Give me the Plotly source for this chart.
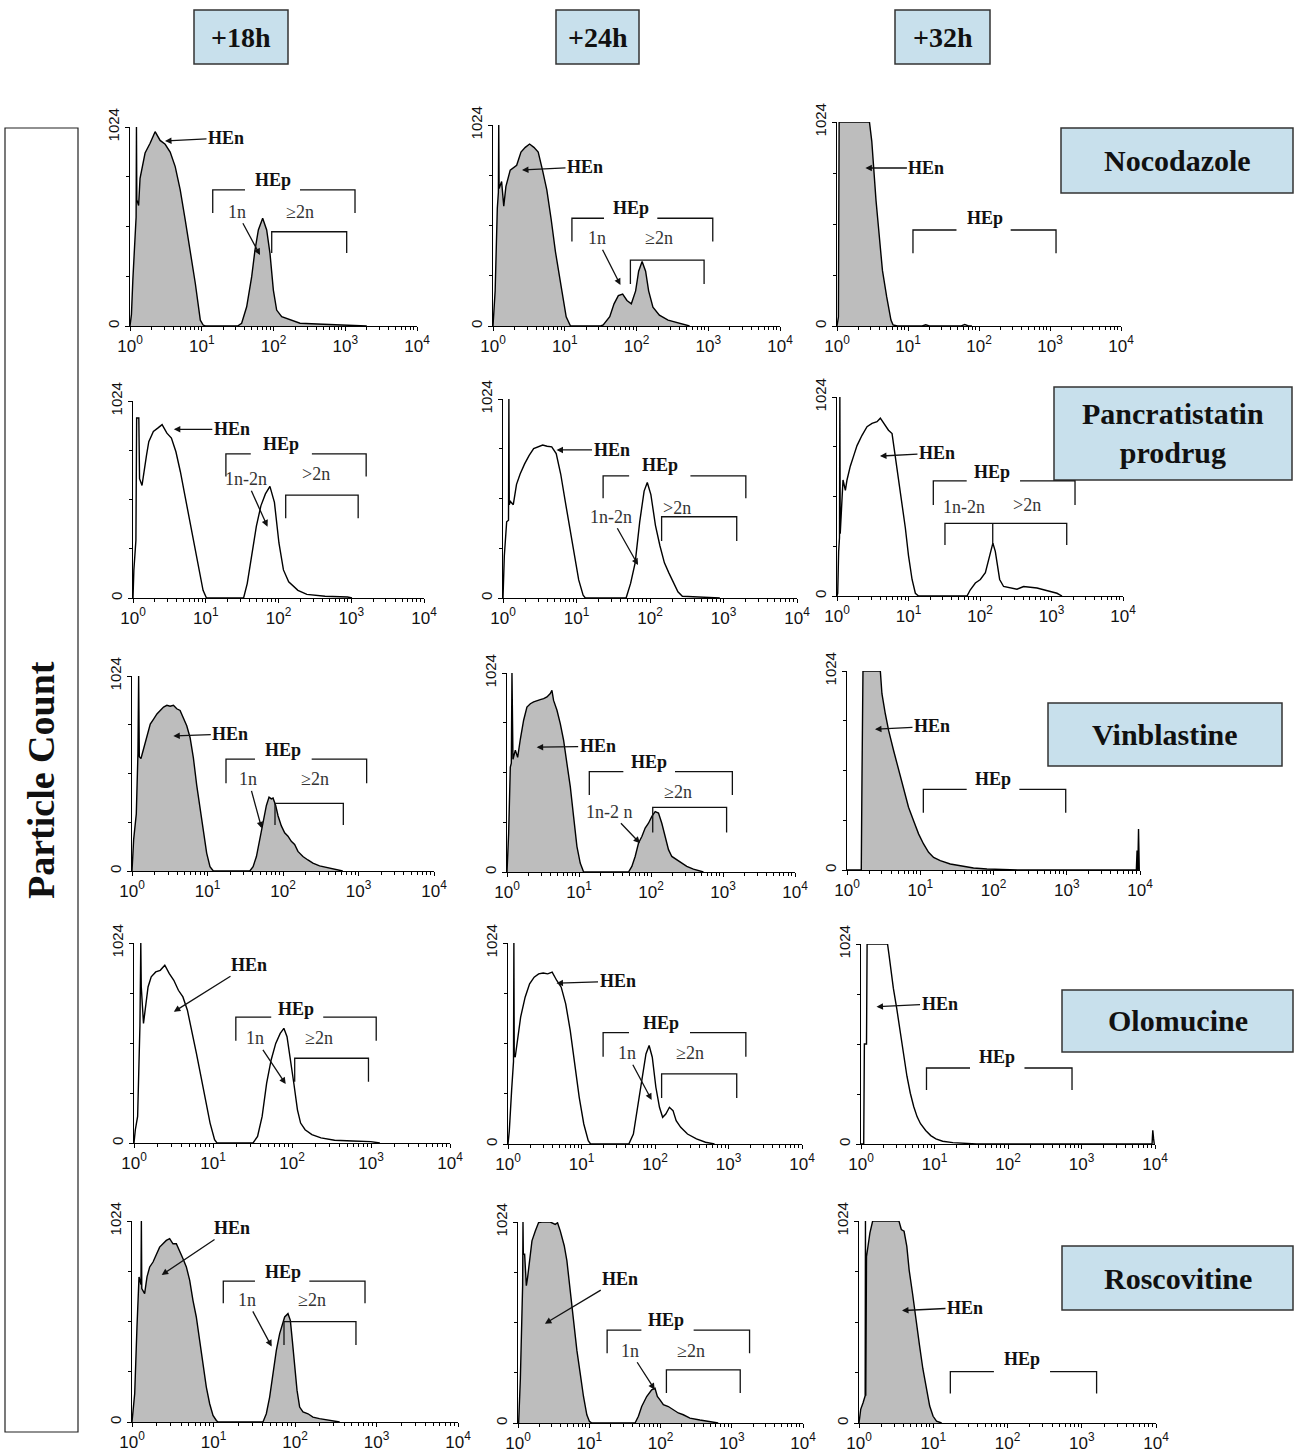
import numpy as np
import plotly.graph_objects as go

W, H = 1294, 1454

# ---------------- data: log10(fluorescence) channel and particle count ----------------
NOC_18H_LOGX = [0.00, 0.02, 0.04, 0.07, 0.085, 0.09, 0.095, 0.12, 0.14, 0.21, 0.28, 0.35, 0.42, 0.49, 0.56, 0.63, 0.70,
                0.77, 0.84, 0.91, 0.98, 1.02, 1.05, 1.50, 1.556, 1.626, 1.696, 1.742, 1.789, 1.849, 1.905, 1.951, 1.998,
                2.044, 2.114, 2.23, 2.37, 2.69, 3.16, 3.3]
NOC_18H_COUNT = [0, 60, 240, 500, 560, 1024, 650, 620, 760, 890, 940, 1000, 955, 935, 895, 820, 700, 545, 390, 220, 30,
                 5, 0, 0, 14, 99, 254, 391, 494, 554, 494, 374, 185, 82, 48, 31, 14, 9, 5, 0]

NOC_24H_LOGX = [0.00, 0.03, 0.06, 0.075, 0.08, 0.085, 0.12, 0.15, 0.18, 0.24, 0.33, 0.39, 0.45, 0.51, 0.57, 0.63, 0.69,
                0.75, 0.81, 0.87, 0.96, 1.02, 1.08, 1.50, 1.536, 1.627, 1.687, 1.747, 1.807, 1.867, 1.928, 1.988, 2.03,
                2.078, 2.127, 2.169, 2.229, 2.319, 2.44, 2.62, 2.74]
NOC_24H_COUNT = [0, 179, 600, 680, 1024, 700, 736, 611, 711, 794, 819, 886, 910, 927, 910, 886, 794, 694, 545, 379, 179,
                 47, 0, 0, 5, 47, 113, 155, 163, 130, 113, 179, 279, 329, 279, 179, 96, 55, 30, 13, 0]

NOC_32H_LOGX = [0.00, 0.02, 0.03, 0.457, 0.49, 0.52, 0.55, 0.58, 0.61, 0.64, 0.70, 0.76, 0.79, 0.85, 1.20, 1.25, 1.30,
                1.75, 1.80, 1.85, 1.90]
NOC_32H_COUNT = [0, 46, 1024, 1024, 927, 761, 628, 512, 379, 279, 146, 30, 5, 0, 0, 6, 0, 0, 8, 0, 0]

PAN_18H_LOGX = [0.00, 0.012, 0.04, 0.05, 0.08, 0.09, 0.124, 0.155, 0.186, 0.217, 0.28, 0.34, 0.40, 0.466, 0.528, 0.59,
                0.652, 0.714, 0.776, 0.838, 0.90, 0.963, 1.01, 1.52, 1.57, 1.634, 1.696, 1.758, 1.82, 1.882, 1.944,
                2.006, 2.068, 2.14, 2.267, 2.39, 2.64, 2.95, 3.01]
PAN_18H_COUNT = [0, 146, 300, 936, 936, 620, 585, 673, 743, 813, 866, 883, 901, 857, 831, 760, 655, 532, 409, 286, 146,
                 40, 0, 0, 75, 216, 374, 479, 541, 580, 497, 286, 146, 84, 40, 19, 9, 5, 0]

PAN_24H_LOGX = [0.00, 0.018, 0.05, 0.075, 0.08, 0.085, 0.10, 0.14, 0.184, 0.233, 0.294, 0.356, 0.417, 0.478, 0.54, 0.60,
                0.663, 0.724, 0.785, 0.847, 0.908, 0.97, 1.03, 1.09, 1.12, 1.675, 1.736, 1.798, 1.86, 1.92, 1.963,
                2.012, 2.074, 2.135, 2.196, 2.258, 2.32, 2.38, 2.44, 2.87, 2.95]
PAN_24H_COUNT = [0, 216, 392, 400, 1024, 480, 497, 480, 585, 638, 690, 734, 769, 778, 787, 781, 778, 743, 638, 497, 357,
                 216, 93, 14, 0, 0, 75, 181, 392, 550, 594, 532, 374, 269, 181, 128, 75, 32, 9, 3, 0]

PAN_32H_LOGX = [0.00, 0.01, 0.023, 0.035, 0.04, 0.045, 0.084, 0.117, 0.14, 0.186, 0.233, 0.28, 0.35, 0.42, 0.49, 0.56,
                0.606, 0.653, 0.72, 0.77, 0.816, 0.862, 0.909, 0.956, 1.0, 1.05, 1.096, 1.14, 1.818, 1.865, 1.935,
                2.005, 2.075, 2.12, 2.154, 2.18, 2.214, 2.238, 2.275, 2.33, 2.424, 2.517, 2.61, 2.704, 2.797, 2.89,
                2.984, 3.077, 3.147]
PAN_32H_COUNT = [0, 14, 226, 300, 1024, 320, 597, 544, 597, 668, 721, 774, 827, 871, 888, 897, 915, 888, 853, 836, 721,
                 597, 473, 350, 208, 85, 14, 0, 0, 32, 67, 85, 120, 190, 240, 272, 230, 165, 85, 49, 41, 35, 49, 46,
                 41, 32, 23, 14, 0]

VIN_18H_LOGX = [0.00, 0.022, 0.057, 0.079, 0.088, 0.097, 0.119, 0.154, 0.198, 0.242, 0.286, 0.33, 0.374, 0.418, 0.462,
                0.505, 0.549, 0.593, 0.637, 0.681, 0.725, 0.769, 0.813, 0.857, 0.901, 0.945, 0.989, 1.033, 1.077,
                1.56, 1.604, 1.648, 1.692, 1.736, 1.78, 1.815, 1.846, 1.868, 1.903, 1.934, 1.978, 2.022, 2.066, 2.11,
                2.154, 2.198, 2.264, 2.33, 2.396, 2.484, 2.615, 2.747, 2.791]
VIN_18H_COUNT = [0, 166, 300, 620, 1024, 600, 591, 647, 718, 772, 798, 825, 843, 861, 870, 865, 870, 852, 843, 807, 763,
                 701, 594, 451, 326, 201, 94, 23, 0, 0, 23, 76, 166, 255, 344, 388, 379, 383, 344, 290, 237, 201, 183,
                 156, 139, 103, 76, 58, 41, 27, 14, 5, 0]

VIN_24H_LOGX = [0.00, 0.023, 0.046, 0.06, 0.069, 0.083, 0.116, 0.148, 0.185, 0.231, 0.277, 0.324, 0.37, 0.416, 0.462,
                0.509, 0.555, 0.601, 0.624, 0.647, 0.694, 0.74, 0.786, 0.832, 0.879, 0.925, 0.971, 1.017, 1.064,
                1.688, 1.734, 1.78, 1.827, 1.873, 1.919, 1.965, 2.012, 2.058, 2.104, 2.15, 2.196, 2.243, 2.289, 2.358,
                2.428, 2.497, 2.589, 2.682, 2.728]
VIN_24H_COUNT = [0, 200, 540, 560, 1024, 580, 627, 590, 683, 781, 849, 866, 875, 883, 887, 892, 901, 918, 935, 883, 832,
                 764, 678, 559, 439, 285, 132, 46, 0, 0, 29, 80, 149, 183, 226, 251, 286, 311, 303, 251, 183, 115, 80,
                 63, 46, 29, 15, 7, 0]

VIN_32H_LOGX = [0.00, 0.195, 0.205, 0.218, 0.455, 0.477, 0.523, 0.568, 0.636, 0.705, 0.773, 0.84, 0.909, 0.977, 1.045,
                1.114, 1.182, 1.273, 1.41, 1.59, 1.727, 1.91, 2.09, 2.36, 3.95, 3.96, 3.97, 3.98, 3.99]
VIN_32H_COUNT = [0, 0, 495, 1024, 1024, 907, 804, 718, 615, 512, 409, 323, 254, 186, 134, 91, 65, 48, 31, 17, 10, 5, 2,
                 0, 0, 100, 0, 211, 0]

OLO_18H_LOGX = [0.00, 0.017, 0.046, 0.075, 0.086, 0.092, 0.12, 0.143, 0.178, 0.218, 0.275, 0.332, 0.39, 0.447, 0.504,
                0.562, 0.619, 0.676, 0.733, 0.79, 0.848, 0.905, 0.963, 1.02, 1.05, 1.507, 1.564, 1.622, 1.679, 1.736,
                1.794, 1.851, 1.897, 1.937, 1.977, 2.023, 2.069, 2.109, 2.166, 2.252, 2.367, 2.539, 2.768, 2.997, 3.112]
OLO_18H_COUNT = [0, 68, 136, 600, 1024, 800, 612, 680, 799, 851, 876, 884, 910, 867, 833, 782, 748, 680, 578, 459, 340,
                 221, 102, 17, 0, 0, 34, 136, 306, 425, 510, 561, 587, 544, 442, 306, 170, 102, 68, 43, 26, 14, 10, 7, 0]

OLO_24H_LOGX = [0.00, 0.018, 0.049, 0.075, 0.08, 0.085, 0.098, 0.141, 0.172, 0.233, 0.294, 0.356, 0.417, 0.479, 0.54,
                0.601, 0.663, 0.724, 0.785, 0.847, 0.908, 0.969, 1.031, 1.092, 1.123, 1.644, 1.706, 1.767, 1.828, 1.877,
                1.92, 1.963, 2.012, 2.061, 2.104, 2.147, 2.196, 2.245, 2.288, 2.35, 2.442, 2.564, 2.687, 2.81]
OLO_24H_COUNT = [0, 68, 272, 420, 1024, 450, 442, 578, 646, 748, 816, 850, 867, 871, 867, 876, 833, 799, 714, 578, 408,
                 238, 102, 17, 0, 0, 51, 204, 357, 459, 502, 442, 289, 187, 136, 153, 187, 170, 119, 85, 51, 26, 9, 0]

OLO_32H_LOGX = [0.00, 0.037, 0.046, 0.075, 0.083, 0.361, 0.38, 0.407, 0.44, 0.486, 0.532, 0.579, 0.625, 0.671, 0.718,
                0.764, 0.81, 0.88, 0.949, 1.019, 1.111, 1.25, 1.39, 1.574, 3.96, 3.97, 3.98, 3.99]
OLO_32H_COUNT = [0, 0, 512, 512, 1024, 1024, 972, 885, 798, 694, 573, 451, 347, 260, 191, 139, 104, 69, 43, 26, 14, 7,
                 3, 0, 0, 70, 30, 0]

ROS_18H_LOGX = [0.00, 0.012, 0.033, 0.061, 0.086, 0.11, 0.115, 0.12, 0.155, 0.184, 0.217, 0.258, 0.299, 0.339, 0.38,
                0.421, 0.462, 0.503, 0.544, 0.585, 0.626, 0.667, 0.708, 0.748, 0.789, 0.83, 0.871, 0.912, 0.953, 0.994,
                1.035, 1.055, 1.607, 1.648, 1.689, 1.73, 1.771, 1.812, 1.845, 1.873, 1.914, 1.943, 1.967, 1.996, 2.025,
                2.057, 2.098, 2.16, 2.22, 2.30, 2.425, 2.548]
ROS_18H_COUNT = [0, 42, 144, 484, 739, 700, 1024, 680, 654, 739, 790, 815, 857, 891, 908, 925, 934, 908, 908, 874, 832,
                 790, 722, 620, 535, 416, 297, 178, 93, 34, 8, 0, 0, 42, 127, 246, 365, 450, 501, 535, 552, 518, 416,
                 280, 161, 76, 51, 42, 25, 17, 8, 0]

ROS_24H_LOGX = [0.00, 0.009, 0.033, 0.056, 0.065, 0.07, 0.075, 0.093, 0.117, 0.135, 0.163, 0.196, 0.243, 0.289, 0.336,
                0.453, 0.523, 0.555, 0.593, 0.616, 0.649, 0.686, 0.733, 0.779, 0.826, 0.873, 0.919, 0.966, 1.003, 1.036,
                1.643, 1.69, 1.736, 1.806, 1.876, 1.923, 1.956, 1.993, 2.04, 2.11, 2.18, 2.25, 2.32, 2.413, 2.553,
                2.693, 2.81]
ROS_24H_COUNT = [0, 0, 224, 700, 700, 1024, 860, 860, 700, 742, 843, 928, 978, 1021, 1024, 1024, 1012, 1020, 979, 945,
                 903, 827, 675, 506, 371, 253, 135, 42, 8, 0, 0, 34, 84, 135, 169, 177, 135, 118, 93, 84, 67, 51, 42,
                 25, 15, 8, 0]

ROS_32H_LOGX = [0.00, 0.023, 0.055, 0.078, 0.083, 0.087, 0.091, 0.101, 0.124, 0.147, 0.184, 0.538, 0.57, 0.607, 0.644,
                0.676, 0.722, 0.768, 0.814, 0.86, 0.906, 0.952, 0.998, 1.044, 1.113]
ROS_32H_COUNT = [0, 69, 103, 138, 138, 1024, 138, 843, 895, 964, 1024, 1024, 981, 972, 895, 774, 654, 516, 396, 275,
                 172, 86, 34, 9, 0]

TIMES = ["+18h", "+24h", "+32h"]
DRUGS = ["Nocodazole", "Pancratistatin<br>prodrug", "Vinblastine", "Olomucine", "Roscovitine"]
X_TICK_VALUES = [1, 10, 100, 1000, 10000]
X_TICK_LABELS = ["10<sup>0</sup>", "10<sup>1</sup>", "10<sup>2</sup>", "10<sup>3</sup>", "10<sup>4</sup>"]
Y_TICK_VALUES = [0, 1024]
Y_TICK_LABELS = ["0", "1024"]

# gates: HEn arrow head (log x, count, text offset px), HEp gate (left, right, level, end, gap left, gap right, label x, label y)
# sub gates: (left, right, level, end, divider x or None), sub labels: (text, x, y, arrow head x, arrow head y)
PANELS = [
    dict(x=NOC_18H_LOGX, y=NOC_18H_COUNT, fill=True, hen=(0.488, 952, 61, -3),
         hep=(1.153, 3.136, 700, 581, 1.603, 2.369, 1.986, 751), sub=(1.975, 3.02, 485, 376, None),
         labels=[("1n", 1.487, 588, 1.812, 365), ("≥2n", 2.369, 588, None, None)]),
    dict(x=NOC_24H_LOGX, y=NOC_24H_COUNT, fill=True, hen=(0.404, 795, 63, -3),
         hep=(1.10, 3.063, 549, 430, 1.547, 2.29, 1.923, 601), sub=(1.915, 2.942, 336, 214, None),
         labels=[("1n", 1.446, 447, 1.776, 209), ("≥2n", 2.32, 447, None, None)]),
    dict(x=NOC_32H_LOGX, y=NOC_32H_COUNT, fill=True, hen=(0.40, 793, 61, 0),
         hep=(1.07, 3.085, 482, 365, 1.683, 2.446, 2.08, 541), sub=None, labels=[]),
    dict(x=PAN_18H_LOGX, y=PAN_18H_COUNT, fill=False, hen=(0.561, 877, 58, 0),
         hep=(1.277, 3.205, 749, 631, 1.619, 2.459, 2.034, 800), sub=(2.099, 3.095, 535, 414, None),
         labels=[("1n-2n", 1.556, 617, 1.849, 371), (">2n", 2.513, 645, None, None)]),
    dict(x=PAN_24H_LOGX, y=PAN_24H_COUNT, fill=False, hen=(0.728, 762, 55, 0),
         hep=(1.362, 3.304, 628, 513, 1.716, 2.55, 2.132, 684), sub=(2.158, 3.18, 418, 293, None),
         labels=[("1n-2n", 1.467, 418, 1.837, 170), (">2n", 2.367, 462, None, None)]),
    dict(x=PAN_32H_LOGX, y=PAN_32H_COUNT, fill=False, hen=(0.601, 720, 57, -3),
         hep=(1.347, 3.329, 592, 468, 1.814, 2.56, 2.164, 640), sub=(1.51, 3.213, 374, 262, 2.178),
         labels=[("1n-2n", 1.779, 460, None, None), (">2n", 2.653, 468, None, None)]),
    dict(x=VIN_18H_LOGX, y=VIN_18H_COUNT, fill=True, hen=(0.547, 709, 57, -2),
         hep=(1.245, 3.108, 587, 461, 1.629, 2.38, 2.004, 635), sub=(1.894, 2.799, 355, 242, None),
         labels=[("1n", 1.541, 481, 1.718, 224), ("≥2n", 2.424, 481, None, None)]),
    dict(x=VIN_24H_LOGX, y=VIN_24H_COUNT, fill=True, hen=(0.412, 642, 61, -1),
         hep=(1.143, 3.13, 516, 396, 1.616, 2.333, 1.976, 568), sub=(2.024, 3.05, 333, 203, None),
         labels=[("1n-2 n", 1.43, 310, 1.847, 148), ("≥2n", 2.379, 413, None, None)]),
    dict(x=VIN_32H_LOGX, y=VIN_32H_COUNT, fill=True, hen=(0.382, 724, 57, -3),
         hep=(1.042, 2.986, 415, 295, 1.634, 2.353, 1.989, 467), sub=None, labels=[]),
    dict(x=OLO_18H_LOGX, y=OLO_18H_COUNT, fill=False, hen=(0.504, 672, 75, -47),
         hep=(1.289, 3.066, 644, 524, 1.737, 2.395, 2.051, 685), sub=(2.034, 2.968, 434, 314, None),
         labels=[("1n", 1.535, 536, 1.92, 302), ("≥2n", 2.338, 536, None, None)]),
    dict(x=OLO_24H_LOGX, y=OLO_24H_COUNT, fill=False, hen=(0.66, 819, 61, -2),
         hep=(1.294, 3.236, 567, 445, 1.646, 2.476, 2.078, 618), sub=(2.09, 3.112, 357, 234, None),
         labels=[("1n", 1.615, 462, 1.954, 224), ("≥2n", 2.476, 462, None, None)]),
    dict(x=OLO_32H_LOGX, y=OLO_32H_COUNT, fill=False, hen=(0.211, 703, 63, -3),
         hep=(0.891, 2.871, 389, 276, 1.483, 2.224, 1.845, 447), sub=None, labels=[]),
    dict(x=ROS_18H_LOGX, y=ROS_18H_COUNT, fill=True, hen=(0.364, 749, 70, -47),
         hep=(1.12, 2.859, 718, 605, 1.509, 2.176, 1.849, 766), sub=(1.865, 2.748, 511, 392, None),
         labels=[("1n", 1.407, 622, 1.714, 384), ("≥2n", 2.205, 622, None, None)]),
    dict(x=ROS_24H_LOGX, y=ROS_24H_COUNT, fill=True, hen=(0.378, 506, 75, -45),
         hep=(1.251, 3.25, 473, 355, 1.732, 2.465, 2.083, 526), sub=(2.083, 3.119, 271, 153, None),
         labels=[("1n", 1.569, 368, 1.919, 170), ("≥2n", 2.433, 368, None, None)]),
    dict(x=ROS_32H_LOGX, y=ROS_32H_COUNT, fill=True, hen=(0.579, 570, 63, -3),
         hep=(1.23, 3.2, 260, 150, 1.817, 2.573, 2.193, 325), sub=None, labels=[]),
]

# ---------------- layout geometry (pixels): x of 10^0, x of 10^4, y top, y bottom ----------------
GEOM = [
    (130, 417, 127, 326), (493, 780, 125, 326), (837, 1121, 122, 326),
    (133, 424, 401, 598), (503, 797, 399, 598), (837, 1123, 397, 596),
    (132, 434, 676, 871), (507, 795, 673, 872), (847, 1140, 671, 870),
    (134, 450, 943, 1143), (508, 802, 943, 1144), (861, 1155, 944, 1144),
    (132, 458, 1221, 1422), (518, 803, 1222, 1423), (859, 1156, 1221, 1423),
]
HEADER_BOXES = [(194, 288, 10, 64), (556, 639, 10, 64), (895, 990, 10, 64)]
DRUG_BOXES = [(1061, 1293, 128, 193), (1054, 1292, 387, 480), (1048, 1282, 703, 766),
              (1062, 1293, 990, 1052), (1062, 1293, 1246, 1310)]

SERIF = "Liberation Serif"
SANS = "Liberation Sans"
FILL = "#bdbdbd"
BOXFILL = "#c8e0ec"

MINOR = [m * 10 ** d for d in range(4) for m in range(2, 10)]

fig = go.Figure()
layout = {}
annotations = []
shapes = []


def px(xp):
    return xp / W


def py(yp):
    return 1 - yp / H


for i, p in enumerate(PANELS):
    n = i + 1
    sfx = "" if n == 1 else str(n)
    xa, ya = "x" + sfx, "y" + sfx
    x0, x4, yt, yb = GEOM[i]

    fig.add_trace(go.Scatter(
        x=np.power(10.0, np.array(p["x"])), y=p["y"], mode="lines",
        line=dict(color="black", width=1.4),
        fill="tozeroy" if p["fill"] else "none", fillcolor=FILL,
        xaxis=xa, yaxis=ya, showlegend=False, hoverinfo="skip"))

    # HEp gate with gap for the label
    L, R, lev, end, gl, gr, tx, ty = p["hep"]
    bx = [L, L, gl, None, gr, R, R]
    by = [end, lev, lev, None, lev, lev, end]
    fig.add_trace(go.Scatter(
        x=[None if v is None else 10 ** v for v in bx], y=by, mode="lines",
        line=dict(color="#111111", width=1.3), xaxis=xa, yaxis=ya,
        showlegend=False, hoverinfo="skip", connectgaps=False))
    annotations.append(dict(x=tx, y=ty, xref=xa, yref=ya, text="<b>HEp</b>", showarrow=False,
                            xanchor="center", yanchor="middle",
                            font=dict(family=SERIF, size=18, color="#111111")))

    # sub gate
    if p["sub"] is not None:
        sl, sr, slev, send, mid = p["sub"]
        sx = [sl, sl, sr, sr]
        sy = [send, slev, slev, send]
        if mid is not None:
            sx += [None, mid, mid]
            sy += [None, slev, send]
        fig.add_trace(go.Scatter(
            x=[None if v is None else 10 ** v for v in sx], y=sy, mode="lines",
            line=dict(color="#111111", width=1.3), xaxis=xa, yaxis=ya,
            showlegend=False, hoverinfo="skip", connectgaps=False))

    for (t, lx, ly, hx, hy) in p["labels"]:
        if hx is None:
            annotations.append(dict(x=lx, y=ly, xref=xa, yref=ya, text=t, showarrow=False,
                                    xanchor="center", yanchor="middle",
                                    font=dict(family=SERIF, size=18, color="#333333")))
        else:
            annotations.append(dict(x=hx, y=hy, xref=xa, yref=ya, ax=lx, ay=ly, axref=xa, ayref=ya,
                                    text=t, showarrow=True, arrowhead=2, arrowsize=1, arrowwidth=1.3,
                                    arrowcolor="#111111", standoff=0,
                                    font=dict(family=SERIF, size=18, color="#333333")))

    hx, hy, hax, hay = p["hen"]
    annotations.append(dict(x=hx, y=hy, xref=xa, yref=ya, ax=hax, ay=hay, text="<b>HEn</b>",
                            showarrow=True, arrowhead=2, arrowsize=1, arrowwidth=1.3,
                            arrowcolor="#111111", standoff=0,
                            font=dict(family=SERIF, size=18, color="#111111")))

    layout["xaxis" + sfx] = dict(
        type="log", range=[0, 4], domain=[px(x0), px(x4)], anchor=ya, automargin=False,
        showline=True, linecolor="black", linewidth=1.2, showgrid=False, zeroline=False,
        tickmode="array", tickvals=X_TICK_VALUES, ticktext=X_TICK_LABELS,
        ticks="outside", ticklen=4, tickcolor="black", tickwidth=1.2,
        tickfont=dict(family=SANS, size=17, color="#111111"),
        minor=dict(tickmode="array", tickvals=MINOR, ticks="outside", ticklen=3,
                   tickcolor="black", tickwidth=1, showgrid=False),
        fixedrange=True)
    layout["yaxis" + sfx] = dict(
        range=[0, 1024], domain=[py(yb), py(yt)], anchor=xa, automargin=False,
        showline=True, linecolor="black", linewidth=1.2, showgrid=False, zeroline=False,
        tickmode="array", tickvals=Y_TICK_VALUES, ticktext=Y_TICK_LABELS, tickangle=-90,
        ticks="outside", ticklen=4, tickcolor="black", tickwidth=1.2,
        tickfont=dict(family=SANS, size=15, color="#111111"),
        minor=dict(tickmode="array", tickvals=[256, 512, 768], ticks="outside", ticklen=3,
                   tickcolor="black", tickwidth=1, showgrid=False),
        fixedrange=True)

# column headers
for (x1, x2, y1, y2), t in zip(HEADER_BOXES, TIMES):
    shapes.append(dict(type="rect", xref="paper", yref="paper", x0=px(x1), x1=px(x2), y0=py(y2), y1=py(y1),
                       fillcolor=BOXFILL, line=dict(color="#333333", width=1.5), layer="below"))
    annotations.append(dict(x=px((x1 + x2) / 2), y=py((y1 + y2) / 2), xref="paper", yref="paper",
                            xanchor="center", yanchor="middle",
                            text="<b>%s</b>" % t, showarrow=False,
                            font=dict(family=SERIF, size=28, color="#111111")))

# drug labels
for (x1, x2, y1, y2), t in zip(DRUG_BOXES, DRUGS):
    shapes.append(dict(type="rect", xref="paper", yref="paper", x0=px(x1), x1=px(x2), y0=py(y2), y1=py(y1),
                       fillcolor=BOXFILL, line=dict(color="#333333", width=1.5), layer="below"))
    annotations.append(dict(x=px((x1 + x2) / 2), y=py((y1 + y2) / 2), xref="paper", yref="paper",
                            xanchor="center", yanchor="middle",
                            text="<b>%s</b>" % t, showarrow=False,
                            font=dict(family=SERIF, size=30, color="#111111")))

# y title box
shapes.append(dict(type="rect", xref="paper", yref="paper", x0=px(5), x1=px(78), y0=py(1432), y1=py(128),
                   fillcolor="white", line=dict(color="#222222", width=1.2), layer="below"))
annotations.append(dict(x=px(41), y=py(780), xref="paper", yref="paper", text="<b>Particle Count</b>",
                        xanchor="center", yanchor="middle",
                        textangle=-90, showarrow=False, font=dict(family=SERIF, size=38, color="#111111")))

fig.update_layout(width=W, height=H, margin=dict(l=0, r=0, t=0, b=0, pad=0, autoexpand=False),
                  paper_bgcolor="white", plot_bgcolor="rgba(0,0,0,0)",
                  annotations=annotations, shapes=shapes, **layout)

fig.write_html("out.html", config={"displayModeBar": False},
               post_script="document.body.style.margin='0';document.body.style.overflow='hidden';")
